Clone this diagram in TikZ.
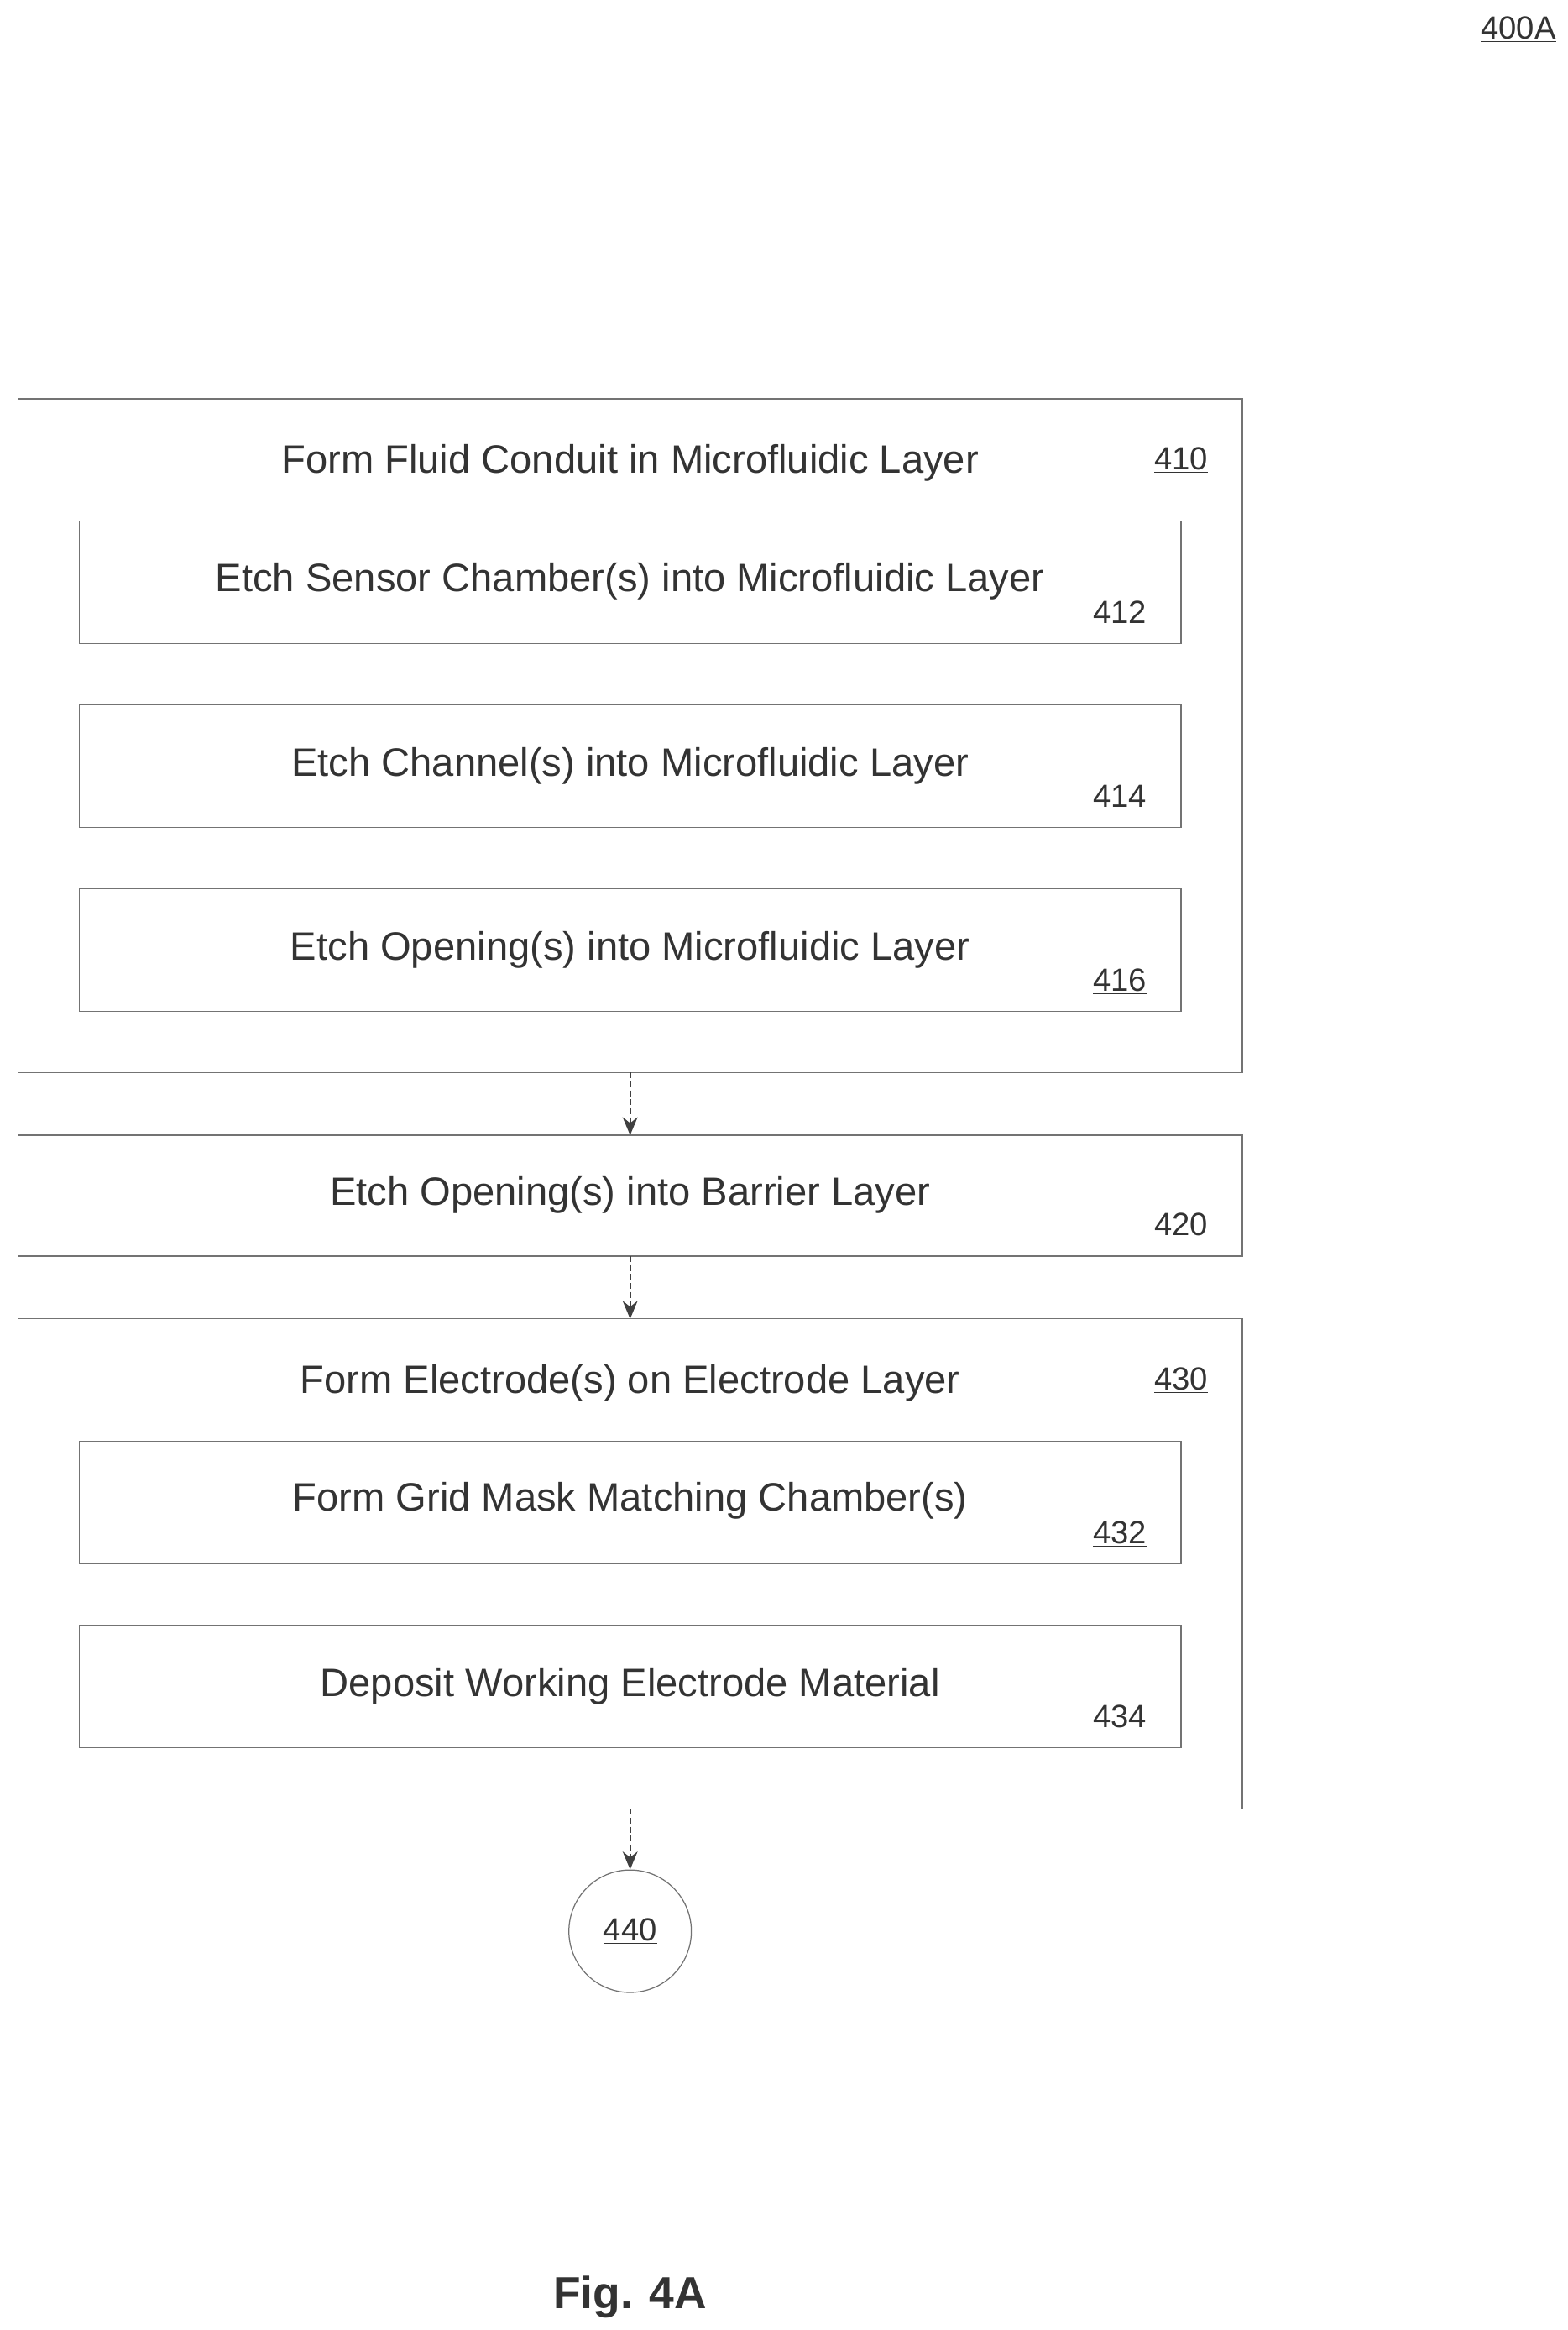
\documentclass[tikz,border=0pt]{standalone}
\usepackage{fontspec}
\setmainfont{Liberation Sans}
\usetikzlibrary{arrows.meta}
\begin{document}
\begin{tikzpicture}[x=1pt,y=-1pt,
  box/.style={draw=black!55,line width=0.7pt},
  txt/.style={font=\fontsize{26.5}{30}\selectfont,text=black!80,inner sep=0},
  lbl/.style={font=\fontsize{21.5}{25}\selectfont,text=black!80,inner sep=0},
  arr/.style={draw=black!75,line width=1.2pt,dashed,dash pattern=on 4pt off 2pt,-{Stealth[length=12pt,width=10pt]}}]
\useasboundingbox (0,0) rectangle (1050,1560);
\node[lbl] (fig) at (1017,20) {\underline{400A}};
% 410
\draw[box] (12,267) rectangle (832,718);
\coordinate (b410t) at (422,267); \coordinate (b410b) at (422,718);
\node[txt] (t410) at (422,310) {Form Fluid Conduit in Microfluidic Layer};
\node[lbl] (l410) at (791,308) {\underline{410}};
\draw[box] (53,349) rectangle (791,431);
\node[txt] (t412) at (422,389) {Etch Sensor Chamber(s) into Microfluidic Layer};
\node[lbl] (l412) at (750,411) {\underline{412}};
\draw[box] (53,472) rectangle (791,554);
\node[txt] (t414) at (422,513) {Etch Channel(s) into Microfluidic Layer};
\node[lbl] (l414) at (750,534) {\underline{414}};
\draw[box] (53,595) rectangle (791,677);
\node[txt] (t416) at (422,636) {Etch Opening(s) into Microfluidic Layer};
\node[lbl] (l416) at (750,657) {\underline{416}};
% 420
\draw[box] (12,760) rectangle (832,841);
\coordinate (b420t) at (422,760); \coordinate (b420b) at (422,841);
\node[txt] (t420) at (422,800) {Etch Opening(s) into Barrier Layer};
\node[lbl] (l420) at (791,821) {\underline{420}};
% 430
\draw[box] (12,883) rectangle (832,1211);
\coordinate (b430t) at (422,883); \coordinate (b430b) at (422,1211);
\node[txt] (t430) at (422,926) {Form Electrode(s) on Electrode Layer};
\node[lbl] (l430) at (791,924) {\underline{430}};
\draw[box] (53,965) rectangle (791,1047);
\node[txt] (t432) at (422,1005) {Form Grid Mask Matching Chamber(s)};
\node[lbl] (l432) at (750,1027) {\underline{432}};
\draw[box] (53,1088) rectangle (791,1170);
\node[txt] (t434) at (422,1129) {Deposit Working Electrode Material};
\node[lbl] (l434) at (750,1150) {\underline{434}};
% 440
\node[box,circle,minimum size=82pt,inner sep=0,lbl] (c440) at (422,1293) {\underline{440}};
\draw[arr] (b410b) -- (b420t);
\draw[arr] (b420b) -- (b430t);
\draw[arr] (b430b) -- (c440.north);
\node[font=\bfseries\fontsize{30}{34}\selectfont,text=black!80] (cap) at (422,1538) {Fig. 4A};
\end{tikzpicture}
\end{document}
